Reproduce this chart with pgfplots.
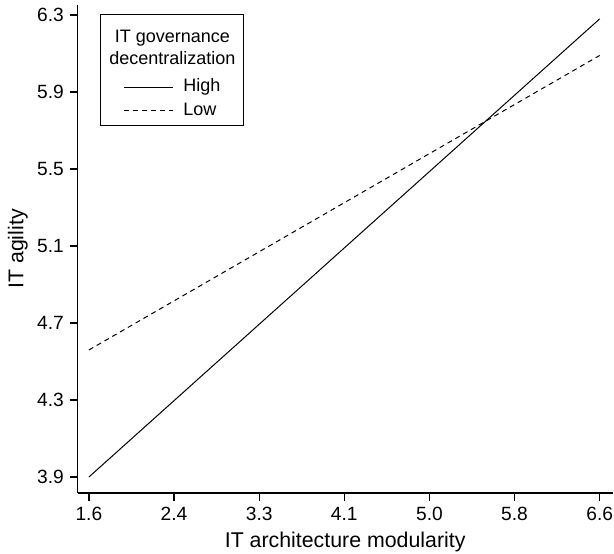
\documentclass[border=0pt]{standalone}
\usepackage{fontspec}
\setmainfont{Liberation Sans}
\usepackage{pgfplots}
\pgfplotsset{compat=1.18}

\begin{document}
\begin{tikzpicture}
\useasboundingbox (-46.6pt,-36pt) rectangle (321.8pt,295.8pt);
\begin{axis}[
  scale only axis, width=321pt, height=292.8pt,
  xmin=1.49, xmax=6.727, ymin=3.817, ymax=6.352,
  axis lines=left, axis line style={-, line width=0.8pt},
  tick align=outside, major tick length=4.8pt,
  major tick style={line width=0.8pt, black},
  xtick={1.6,2.43333,3.26667,4.1,4.93333,5.76667,6.6},
  xticklabels={1.6,2.4,3.3,4.1,5.0,5.8,6.6},
  ytick={3.9,4.3,4.7,5.1,5.5,5.9,6.3},
  yticklabels={3.9,4.3,4.7,5.1,5.5,5.9,6.3},
  xticklabel style={font=\fontsize{11.5}{13}\selectfont},
  yticklabel style={font=\fontsize{11.5}{13}\selectfont},
  xlabel={IT architecture modularity},
  ylabel={IT agility},
  every axis x label/.style={at={(axis description cs:0.5,0)}, anchor=base, yshift=-32.4pt,
    font=\fontsize{12.8}{15}\selectfont},
  every axis y label/.style={at={(axis description cs:-0.112,0.5)}, rotate=90, anchor=center,
    font=\fontsize{12.8}{15}\selectfont},
  legend style={at={(rel axis cs:0.0848,0.8075)}, anchor=west, draw=none, fill=none,
    inner sep=0pt, row sep=4.4pt, column sep=6pt,
    font=\fontsize{10.8}{12}\selectfont,
    nodes={inner sep=0pt, text height=7.8pt, text depth=2pt}},
  legend cell align=left,
  legend image code/.code={\draw[#1] (0pt,0pt) -- (29.4pt,0pt);},
]
\addplot[black, line width=0.6pt] coordinates {(1.6,3.9) (6.6,6.28)};
\addlegendentry{High}
\addplot[black, line width=0.6pt, dash pattern=on 3pt off 2.4pt] coordinates {(1.6,4.56) (6.6,6.09)};
\addlegendentry{Low}
\draw[line width=0.6pt] (rel axis cs:0.043,0.9795) rectangle (rel axis cs:0.31,0.754);
\node[align=center, anchor=north, inner sep=0pt, font=\fontsize{10.8}{13.2}\selectfont]
  at (rel axis cs:0.177,0.95) {IT governance\\decentralization};
\end{axis}
\end{tikzpicture}
\end{document}
